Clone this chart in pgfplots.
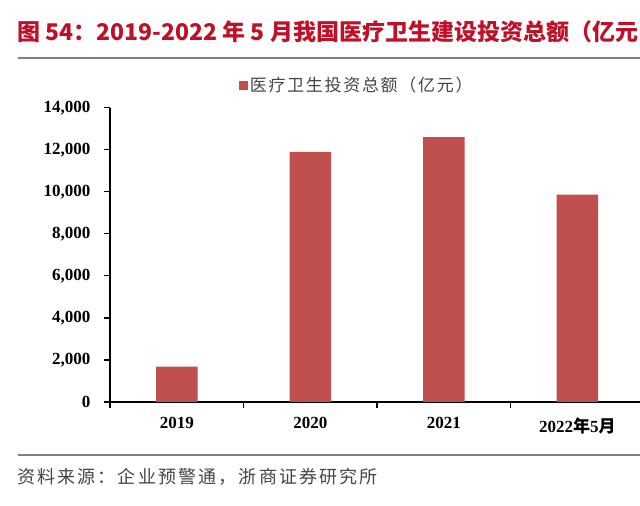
\documentclass[border=0pt]{standalone}
\usepackage{pgfplots}
\pgfplotsset{compat=1.18}
\usepackage{fontspec}
\setmainfont{Liberation Serif}
\newfontfamily\cjk{Noto Sans CJK SC}
\definecolor{barred}{RGB}{192,80,77}
\definecolor{titlered}{RGB}{192,16,40}
\definecolor{rulegray}{RGB}{128,128,128}
\definecolor{srcgray}{RGB}{70,70,70}

\begin{document}
\begin{tikzpicture}[x=1pt,y=1pt]
    \useasboundingbox (0,0) rectangle (640,506);
    \fill[white] (0,0) rectangle (640,506);
    % title and rules
    \node[anchor=west, inner sep=0pt, text=titlered,
          font=\cjk\bfseries\fontsize{23}{23}\selectfont] at (17,474)
          {图 54：2019-2022 年 5 月我国医疗卫生建设投资总额（亿元};
    \draw[rulegray, line width=2.5pt] (18,448) -- (640,448);
    \draw[rulegray, line width=2.5pt] (18,51) -- (640,51);
    \node[anchor=west, inner sep=0pt, text=srcgray,
          font=\cjk\fontsize{18}{18}\selectfont\addfontfeature{LetterSpace=12}] at (17,29)
          {资料来源：企业预警通，浙商证券研究所};

    \begin{axis}[
        at={(110pt,104pt)}, anchor=south west,
        scale only axis,
        width=534pt, height=294.3pt,
        xmin=-0.5, xmax=3.5,
        ymin=0, ymax=14000,
        axis x line*=bottom,
        axis y line*=left,
        axis line style={-, black, line width=1.3pt},
        ybar, bar width=41.5pt,
        xtick={0,1,2,3},
        xticklabels={2019,2020,2021,{2022{\cjk 年}5{\cjk 月}}},
        major x tick style={draw=none},
        minor xtick={-0.5,0.5,1.5,2.5,3.5},
        minor x tick style={black, line width=1.2pt},
        ytick={0,2000,...,14000},
        scaled y ticks=false,
        major y tick style={black, line width=1.2pt},
        tick align=outside,
        major tick length=6pt,
        minor tick length=6pt,
        ticklabel style={font=\bfseries\fontsize{17}{17}\selectfont, text=black},
        yticklabel style={xshift=-10pt, /pgf/number format/fixed},
        xticklabel style={yshift=-6pt},
        /pgf/number format/assume math mode=true,
        /pgf/number format/.cd, 1000 sep={,},
        /pgfplots/.cd,
        legend style={
            at={(0.462,1.077)}, anchor=center,
            draw=none, fill=none,
            font=\cjk\fontsize{17}{17}\selectfont\addfontfeature{LetterSpace=10},
            text=srcgray,
        },
        legend image code/.code={\fill[barred] (0pt,-4.5pt) rectangle (9pt,4.5pt);},
        ]
        \addplot[draw=none, fill=barred] coordinates {
            (0,1680)
            (1,11900)
            (2,12600)
            (3,9860)
        };
        \addlegendentry{医疗卫生投资总额（亿元）}
    \end{axis}
\end{tikzpicture}
\end{document}
